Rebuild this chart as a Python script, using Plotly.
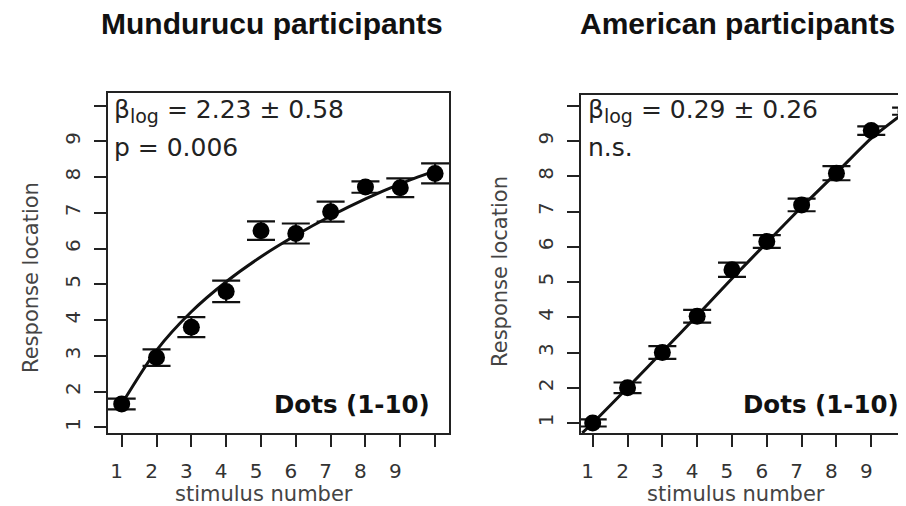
import plotly.graph_objects as go

# ---------------- data ----------------
stimulus = [1, 2, 3, 4, 5, 6, 7, 8, 9, 10]

mund_mean = [1.65, 2.95, 3.8, 4.8, 6.5, 6.42, 7.03, 7.72, 7.7, 8.1]
mund_err = [0.15, 0.23, 0.28, 0.3, 0.26, 0.28, 0.28, 0.16, 0.26, 0.28]
mund_fit_x = [1, 2, 3, 4, 5, 6, 7, 8, 9, 10]
mund_fit_y = [1.65, 3.15, 4.23, 5.07, 5.77, 6.37, 6.91, 7.39, 7.81, 8.17]

amer_mean = [1.0, 2.0, 3.0, 4.03, 5.35, 6.15, 7.19, 8.09, 9.3, 9.85]
amer_err = [0.1, 0.15, 0.18, 0.18, 0.2, 0.18, 0.18, 0.2, 0.12, 0.1]
amer_fit_x = [0.7, 1, 2, 3, 4, 5, 6, 7, 8, 9, 10]
amer_fit_y = [0.72, 1.0, 2.0, 3.02, 4.05, 5.1, 6.12, 7.13, 8.1, 9.08, 9.85]

label_vals = [1, 2, 3, 4, 5, 6, 7, 8, 9]        # labelled ticks
label_text = ["1", "2", "3", "4", "5", "6", "7", "8", "9"]
extra_tick = [10]                                # unlabelled tick

titles = ["Mundurucu participants", "American participants"]
beta_text = ['β<sub><span style="font-size:19px">log</span></sub> = 2.23 ± 0.58',
             'β<sub><span style="font-size:19px">log</span></sub> = 0.29 ± 0.26']
sig_text = ["p = 0.006", "n.s."]
cond_text = "Dots (1-10)"
x_title = "stimulus number"
y_title = "Response location"

# ---------------- figure ----------------
W, H = 906, 506


def px(x):
    return x / W


def py(y):
    return 1 - y / H


fig = go.Figure()

for i, (mean, err, fx, fy) in enumerate([
    (mund_mean, mund_err, mund_fit_x, mund_fit_y),
    (amer_mean, amer_err, amer_fit_x, amer_fit_y),
]):
    xa = "x" if i == 0 else "x2"
    ya = "y" if i == 0 else "y2"
    fig.add_trace(go.Scatter(
        x=fx, y=fy, mode="lines",
        line=dict(color="#111", width=3, shape="spline", smoothing=0.8),
        xaxis=xa, yaxis=ya, hoverinfo="skip"))
    fig.add_trace(go.Scatter(
        x=stimulus, y=mean, mode="markers",
        marker=dict(color="#000", size=17),
        error_y=dict(type="data", array=err, visible=True, color="#111",
                     thickness=2.2, width=14),
        xaxis=xa, yaxis=ya))

tickfont = dict(family="DejaVu Sans", size=20, color="#333")
common = dict(showline=True, mirror=True, linecolor="#222", linewidth=1.5,
              ticks="outside", ticklen=12, tickwidth=1.5, tickcolor="#222",
              showgrid=False, zeroline=False, tickmode="array",
              tickvals=label_vals, ticktext=label_text, tickfont=tickfont,
              minor=dict(tickmode="array", tickvals=extra_tick, ticks="outside",
                         ticklen=12, tickwidth=1.5, tickcolor="#222",
                         showgrid=False))

xcommon = dict(common, ticklabelstandoff=7, ticklabelshift=-5)
ycommon = dict(common, tickangle=-90, ticklabelstandoff=6)

fig.update_layout(
    width=W, height=H,
    margin=dict(l=0, r=0, t=0, b=0),
    paper_bgcolor="white", plot_bgcolor="white",
    showlegend=False,
    xaxis=dict(xcommon, domain=[px(100), px(442)], range=[0.6, 10.4], anchor="y"),
    yaxis=dict(ycommon, domain=[py(425), py(85)], range=[0.84, 10.35], anchor="x"),
    xaxis2=dict(xcommon, domain=[px(574), 1.0], range=[0.656, 10.17], anchor="y2"),
    yaxis2=dict(ycommon, domain=[py(425), py(87)], range=[0.716, 10.31], anchor="x2"),
)

ann = []
title_font = dict(family="Liberation Sans, Arial", size=30, color="#111")
body_font = dict(family="DejaVu Sans", size=25, color="#222")
bold_font = dict(family="DejaVu Sans", size=24.5, color="#111")
lab_font = dict(family="DejaVu Sans", size=21, color="#444")

panels = [
    dict(title_x=265, beta_x=104, dots_r=425, ytitle_x=23, ytitle_y=269, xtitle_x=257),
    dict(title_x=731, beta_x=579, dots_r=895, ytitle_x=493, ytitle_y=263, xtitle_x=730),
]
for i, p in enumerate(panels):
    ann.append(dict(text="<b>%s</b>" % titles[i], x=px(p["title_x"]), y=py(15),
                    xanchor="center", yanchor="middle", font=title_font))
    ann.append(dict(text=beta_text[i], x=px(p["beta_x"]), y=py(103),
                    xanchor="left", yanchor="middle", font=body_font))
    ann.append(dict(text=sig_text[i], x=px(p["beta_x"]), y=py(140),
                    xanchor="left", yanchor="middle", font=body_font))
    ann.append(dict(text="<b>%s</b>" % cond_text, x=px(p["dots_r"]), y=py(396),
                    xanchor="right", yanchor="middle", font=bold_font))
    ann.append(dict(text=y_title, x=px(p["ytitle_x"]), y=py(p["ytitle_y"]),
                    xanchor="center", yanchor="middle", textangle=-90, font=lab_font))
    ann.append(dict(text=x_title, x=px(p["xtitle_x"]), y=py(486),
                    xanchor="center", yanchor="middle", font=lab_font))

for a in ann:
    a.update(xref="paper", yref="paper", showarrow=False)
fig.update_layout(annotations=ann)

fig.write_html("out.html")
